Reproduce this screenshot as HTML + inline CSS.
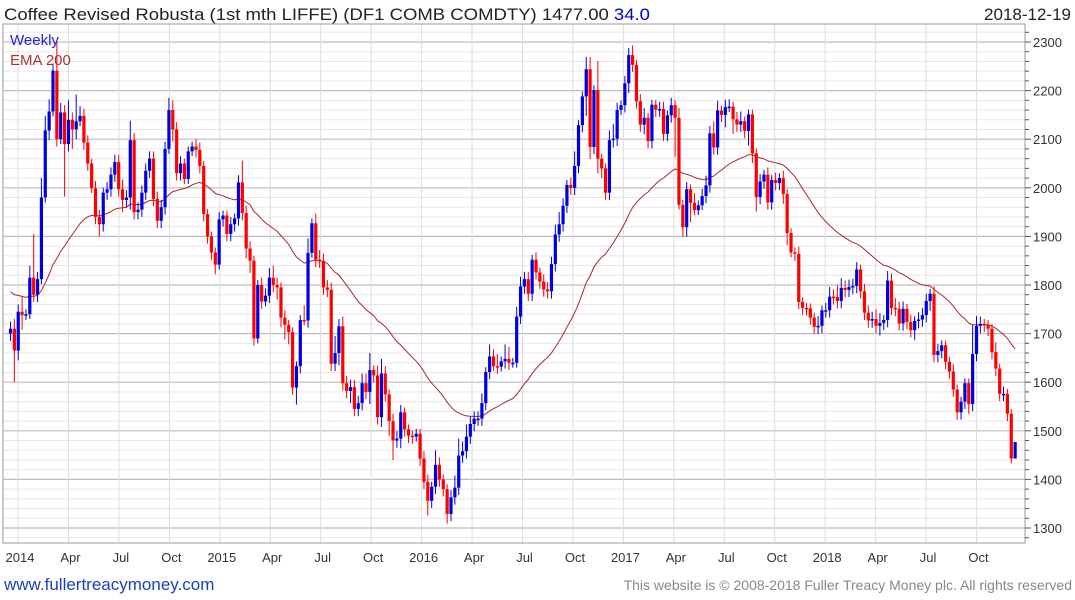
<!DOCTYPE html>
<html><head><meta charset="utf-8"><style>
body{margin:0;background:#fff;font-family:"Liberation Sans",sans-serif;}
#wrap{position:relative;width:1075px;height:600px;overflow:hidden;}
</style></head><body>
<div id="wrap">
<svg id="chart" width="1075" height="600" xmlns="http://www.w3.org/2000/svg">
<text x="4" y="20" font-size="17" fill="#222" textLength="646" lengthAdjust="spacingAndGlyphs">Coffee Revised Robusta (1st mth LIFFE) (DF1 COMB COMDTY) 1477.00 <tspan fill="#0000cc">34.0</tspan></text>
<text x="1071" y="20" font-size="17" fill="#222" text-anchor="end">2018-12-19</text>
<g id="grid"></g>
<g id="ema"></g>
<g id="candles"></g>
<rect x="3" y="24" width="1022" height="519" fill="none" stroke="#999"/>
<g id="yaxis"></g>
<g id="xaxis"></g>
<text x="10" y="45" font-size="15" fill="#2222dd">Weekly</text>
<text x="10" y="65" font-size="15" fill="#b03030">EMA 200</text>
<text x="4" y="590" font-size="17" fill="#1a3fc0">www.fullertreacymoney.com</text>
<text x="1072" y="590" font-size="14" fill="#888" text-anchor="end">This website is © 2008-2018 Fuller Treacy Money plc. All rights reserved</text>
</svg>
</div>
<script>
const closes=[1710,1665,1745,1738,1740,1815,1780,1812,1980,2118,2157,2241,2100,2155,2090,2140,2120,2137,2148,2093,2050,1999,1940,1925,1990,1997,2027,2053,1997,1975,1980,2098,1950,1955,1990,2035,2060,1977,1932,1960,2080,2160,2120,2030,2050,2018,2075,2085,2078,2045,1946,1900,1867,1842,1935,1943,1905,1925,1937,2011,1948,1875,1850,1690,1800,1766,
1778,1815,1800,1795,1733,1718,1703,1589,1633,1728,1727,1866,1927,1852,1850,1795,1790,1638,1660,1715,1598,1582,1590,1545,1557,1598,1580,1625,1614,1528,1618,1575,1520,1480,1484,1538,1503,1490,1488,1494,1443,1395,1356,1385,1430,1400,1380,1329,1363,1383,1449,1458,1488,1514,1525,1525,1557,1621,1653,1633,1632,1643,1648,1640,1640,1735,1797,
1812,1782,1852,1826,1807,1791,1787,1843,1904,1925,1963,2006,2000,2045,2129,2188,2244,2084,2201,2060,2040,1990,2098,2101,2160,2170,2215,2273,2253,2178,2130,2144,2096,2171,2161,2162,2111,2149,2170,2144,1965,1919,1997,1969,1954,1964,1983,2005,2112,2083,2159,2150,2166,2167,2141,2130,2137,2117,2151,2071,1981,2013,2027,1970,2016,2010,2020,1987,
1907,1867,1864,1765,1753,1752,1733,1714,1716,1748,1748,1776,1775,1767,1794,1790,1796,1798,1832,1787,1743,1727,1730,1716,1722,1728,1809,1753,1751,1721,1751,1724,1707,1726,1729,1738,1767,1782,1656,1664,1676,1642,1622,1585,1538,1560,1598,1555,1658,1716,1720,1718,1710,1662,1628,1576,1576,1535,1443,1477];
const firstOpen=1700;
const wickUp=[15,20,15,30,10,25,90,15,40,30,25,15,60,20,15,40,15,55,20,15,15,10,15,15,10,15,15,15,15,20,15,40,15,15,15,15,15,15,15,15,15,25,20,15,15,10,10,10,15,15,10,10,10,10,15,10,10,15,10,15,45,15,15,10,10,15,
15,20,25,15,10,15,10,10,10,10,30,30,10,20,20,15,15,15,35,15,20,15,15,15,15,20,20,35,10,20,30,15,10,15,15,15,10,10,10,10,10,15,15,10,30,15,10,10,15,25,35,20,25,15,15,15,20,10,25,15,25,10,30,25,10,20,
20,15,15,10,15,10,15,15,15,20,25,15,10,15,30,10,10,25,25,10,60,10,10,20,30,15,10,15,15,20,10,15,20,10,10,10,15,15,10,15,10,20,10,15,10,20,10,15,20,15,25,20,10,15,15,10,15,20,10,10,10,10,15,10,15,10,15,10,
15,10,10,10,15,10,10,10,10,20,10,15,20,15,25,20,15,15,15,15,10,15,15,15,20,20,10,20,15,20,15,15,10,15,10,15,15,15,10,15,15,10,10,10,15,10,10,10,10,60,20,15,10,10,10,20,10,15,10,10];
const wickDn=[15,65,20,30,10,10,15,15,10,10,20,10,15,10,108,15,40,20,10,15,15,10,15,25,15,15,15,15,15,25,15,25,15,15,15,15,15,15,15,15,15,10,25,15,15,10,10,10,15,15,15,15,15,20,10,15,15,15,15,15,15,20,25,15,10,15,
10,15,15,25,20,30,25,15,35,15,10,15,10,15,15,15,15,15,15,25,15,15,25,15,15,15,15,25,15,15,20,15,30,40,15,20,15,15,15,10,15,15,30,15,15,15,15,20,15,15,15,15,15,15,15,15,15,15,15,10,15,10,15,15,10,10,
15,15,15,15,15,15,15,15,15,15,15,15,15,15,15,15,15,40,25,15,30,20,15,15,15,15,10,15,20,15,15,15,20,15,15,15,15,15,15,15,80,10,20,20,40,10,10,10,15,15,15,15,15,25,10,30,15,15,15,30,20,30,15,15,15,15,15,15,
20,25,10,15,15,15,15,15,15,15,15,15,15,15,15,15,15,15,15,15,15,15,15,15,15,20,15,15,15,15,15,15,15,15,20,15,15,15,20,15,15,15,15,15,15,15,15,15,20,15,15,15,15,15,15,15,15,15,15,10];
const yTicks=[1300,1400,1500,1600,1700,1800,1900,2000,2100,2200,2300];
const xLabels=["2014","Apr","Jul","Oct","2015","Apr","Jul","Oct","2016","Apr","Jul","Oct","2017","Apr","Jul","Oct","2018","Apr","Jul","Oct"];
const emaSeed=1790;
const emaPeriod=40;

const NS="http://www.w3.org/2000/svg";
function yS(v){return 42+(2300-v)*0.486;}
function xS(i){return 10.5+i*3.864;}
function xQ(q){return 18+q*50.45;}
function mk(tag,attrs,parent){const e=document.createElementNS(NS,tag);for(const k in attrs)e.setAttribute(k,attrs[k]);parent.appendChild(e);return e;}
const grid=document.getElementById('grid'),ya=document.getElementById('yaxis'),xa=document.getElementById('xaxis');
for(let v=1280;v<=2320;v+=20){
  const y=yS(v); if(y<24||y>543)continue;
  const major=v%100===0;
  const l=mk('line',{x1:3,x2:1025,y1:y,y2:y,stroke:major?'#bdbdbd':'#e8e8e8','stroke-width':major?1.2:1},grid);
  
  
  const t=mk('line',{x1:1025,x2:major?1031:1029,y1:y,y2:y,stroke:'#555'},ya);
  
  
}
yTicks.forEach(v=>{
  const t=mk('text',{x:1033,y:yS(v)+5,'font-size':13,fill:'#333'},ya);
  t.textContent=v;
  
  
});
xLabels.forEach((s,q)=>{
  const x=xQ(q);
  const l=mk('line',{x1:x,x2:x,y1:24,y2:543,stroke:'#dcdcdc'},grid);
  
  
  const t=mk('text',{x:x+2,y:562,'font-size':13,fill:'#333','text-anchor':'middle'},xa);
  t.textContent=s;
  
  
});
const k=2/(emaPeriod+1);let e=emaSeed;let pts=[];
closes.forEach((c,i)=>{e=e+(c-e)*k;pts.push(xS(i).toFixed(1)+','+yS(e).toFixed(1));});
const pl=mk('polyline',{points:pts.join(' '),fill:'none',stroke:'#a52a2a','stroke-width':1},document.getElementById('ema'));


const cg=document.getElementById('candles');
closes.forEach((c,i)=>{
  const o=i===0?firstOpen:closes[i-1];
  const up=c>=o;const col=up?'#0000dd':'#ff0000';
  const hi=Math.max(o,c)+wickUp[i],lo=Math.min(o,c)-wickDn[i];
  const x=xS(i);
  const g=mk('g',{},cg);
  
  
  mk('line',{x1:x,x2:x,y1:yS(hi),y2:yS(lo),stroke:col,'stroke-width':1},g);
  const top=yS(Math.max(o,c)),h=Math.max(1.5,yS(Math.min(o,c))-top);
  mk('rect',{x:x-1.6,y:top,width:3.2,height:h,fill:col},g);
});
</script>
</body></html>
